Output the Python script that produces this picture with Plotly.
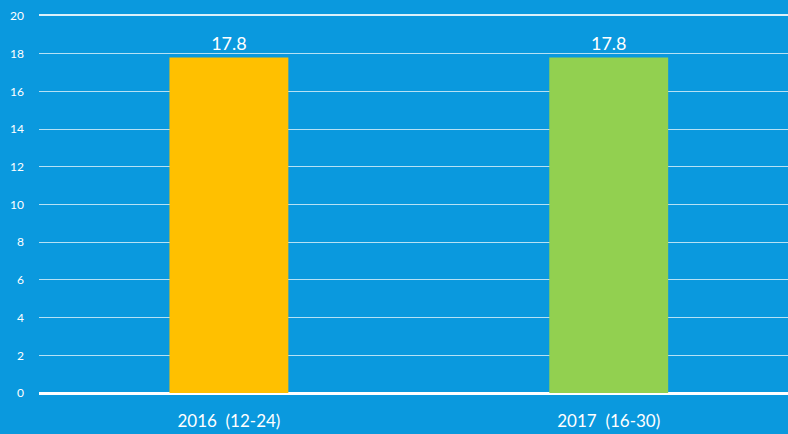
import plotly.graph_objects as go

categories = ["2016\u00a0\u00a0(12-24)", "2017\u00a0\u00a0(16-30)"]
values = [17.8, 17.8]
colors = ["#FFC000", "#92D050"]
labels = ["17.8", "17.8"]
y_ticks = [0, 2, 4, 6, 8, 10, 12, 14, 16, 18, 20]

fig = go.Figure(go.Bar(
    x=[0, 1], y=values, marker_color=colors, width=0.313,
    marker_line_width=0,
    text=labels, textposition="outside", cliponaxis=False,
    textfont=dict(color="white", size=18, family="Lato"),
))

fig.update_layout(
    width=788, height=434,
    paper_bgcolor="#0A99DE", plot_bgcolor="#0A99DE",
    margin=dict(l=39, r=0, t=16, b=41),
    showlegend=False,
    font=dict(family="Lato", color="white"),
    xaxis=dict(
        tickvals=[0, 1], ticktext=categories, range=[-0.5, 1.472],
        showgrid=False, zeroline=False,
        showline=True, mirror=True, linecolor="rgba(255,255,255,0.85)", linewidth=1.5,
        tickfont=dict(size=17, color="white"), ticks="", ticklabelstandoff=12,
    ),
    yaxis=dict(
        range=[0, 20], tickvals=y_ticks, showgrid=True,
        gridcolor="rgba(255,255,255,0.7)", gridwidth=1,
        zeroline=True, zerolinecolor="white", zerolinewidth=2.5,
        tickfont=dict(size=12, color="white"), ticks="", ticklabelstandoff=14,
        showline=False,
    ),
)

fig.write_html("out.html", config={"displayModeBar": False},
               post_script="document.body.style.margin='0';document.body.style.background='#0A99DE';")
